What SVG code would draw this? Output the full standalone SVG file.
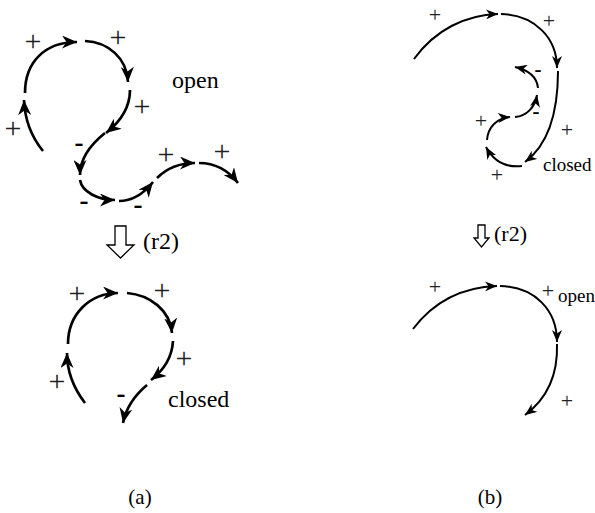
<svg xmlns="http://www.w3.org/2000/svg" width="595" height="513" viewBox="0 0 595 513" font-family="Liberation Serif, Times New Roman, serif">
<style>
  .ca { fill: none; stroke: #000; stroke-width: 2.7; marker-end: url(#ha); }
  .cb { fill: none; stroke: #000; stroke-width: 2; marker-end: url(#hb); }
  text { font-family: 'Liberation Serif', 'Times New Roman', serif; fill: #000; }
  .pa { font-size: 30px; text-anchor: middle; fill: #222; }
  .pb { font-size: 22px; text-anchor: middle; fill: #222; }
  .ma { font-size: 27px; font-weight: bold; text-anchor: middle; }
  .mb { font-size: 21px; font-weight: bold; text-anchor: middle; }
  .wa { font-size: 24px; }
  .wb { font-size: 19px; }
  .hollow { fill: #fff; stroke: #000; stroke-width: 1.3; stroke-linejoin: miter; }
</style>
<defs>
  <marker id="ha" markerUnits="userSpaceOnUse" markerWidth="15" markerHeight="13" refX="15" refY="6.5" orient="auto">
    <path d="M0,0 L15,6.5 L0,13 L4.5,6.5 z" fill="#000"/>
  </marker>
  <marker id="hb" markerUnits="userSpaceOnUse" markerWidth="12" markerHeight="10" refX="12" refY="5" orient="auto">
    <path d="M0,0 L12,5 L0,10 L3.5,5 z" fill="#000"/>
  </marker>
</defs>
<rect width="595" height="513" fill="#fff"/>

<g id="connectors">
  <path class="ca" d="M43,151 C34,140 25,125 24,100"/>
  <path class="ca" d="M25,93 C25,62 45,42 77,42"/>
  <path class="ca" d="M85,41 C108,42 127,58 128,82"/>
  <path class="ca" d="M130,90 C130,108 120,122 106,133"/>
  <path class="ca" d="M105,133 C90,145 80,158 80,175"/>
  <path class="ca" d="M80,180 C82,192 98,200 115,200"/>
  <path class="ca" d="M119,201 C133,201 145,192 153,182"/>
  <path class="ca" d="M157,178 C167,168 180,163 195,163"/>
  <path class="ca" d="M199,163 C215,163 228,170 238,183"/>
  <path class="ca" d="M85,403 C75,390 67,372 67,353"/>
  <path class="ca" d="M68,344 C68,314 90,293 118,293"/>
  <path class="ca" d="M127,293 C150,295 170,310 172,333"/>
  <path class="ca" d="M173,341 C172,358 164,370 151,380"/>
  <path class="ca" d="M147,385 C135,395 126,408 123,423"/>
  <path class="cb" d="M414,59 C435,30 465,15 498,14"/>
  <path class="cb" d="M501,14 C535,15 557,38 557,68"/>
  <path class="cb" d="M558,71 C558,115 548,145 525,162"/>
  <path class="cb" d="M522,166 C505,168 493,160 486,147"/>
  <path class="cb" d="M487,140 C488,127 497,118 510,117"/>
  <path class="cb" d="M515,117 C527,116 535,107 537,95"/>
  <path class="cb" d="M538,88 C537,77 528,70 515,67"/>
  <path class="cb" d="M413,329 C435,300 465,287 497,286"/>
  <path class="cb" d="M500,286 C535,287 557,310 557,342"/>
  <path class="cb" d="M557,344 C558,375 548,398 525,415"/>
</g>

<g id="labels-a-top">
  <text class="pa" x="33" y="51">+</text>
  <text class="pa" x="118" y="47">+</text>
  <text class="pa" x="142" y="116">+</text>
  <text class="pa" x="13" y="138">+</text>
  <text class="ma" x="79" y="151">-</text>
  <text class="pa" x="166" y="164">+</text>
  <text class="pa" x="222" y="161">+</text>
  <text class="ma" x="84" y="209">-</text>
  <text class="ma" x="138" y="213">-</text>
  <text class="wa" x="172" y="88">open</text>
</g>

<g id="transform-a">
  <polygon class="hollow" points="115,226 126,226 126,245 134,245 120.5,258 107,245 115,245"/>
  <text class="wa" x="143" y="249">(r2)</text>
</g>

<g id="labels-a-bottom">
  <text class="pa" x="77" y="303">+</text>
  <text class="pa" x="162" y="300">+</text>
  <text class="pa" x="184" y="368">+</text>
  <text class="pa" x="57" y="391">+</text>
  <text class="ma" x="121" y="402">-</text>
  <text class="wa" x="168" y="407">closed</text>
</g>

<g id="labels-b-top">
  <text class="pb" x="435" y="22">+</text>
  <text class="pb" x="549" y="28">+</text>
  <text class="mb" x="538" y="76">-</text>
  <text class="mb" x="536" y="118">-</text>
  <text class="pb" x="481" y="128">+</text>
  <text class="pb" x="567" y="137">+</text>
  <text class="pb" x="497" y="182">+</text>
  <text class="wb" x="543" y="171">closed</text>
</g>

<g id="transform-b">
  <polygon class="hollow" points="478,225 485,225 485,238 489,238 481.5,247 474,238 478,238"/>
  <text x="494" y="241" font-size="22">(r2)</text>
</g>

<g id="labels-b-bottom">
  <text class="pb" x="435" y="294">+</text>
  <text class="pb" x="548" y="298">+</text>
  <text class="wb" x="558" y="302">open</text>
  <text class="pb" x="567" y="408">+</text>
</g>

<g id="captions">
  <text x="140" y="504" font-size="21" text-anchor="middle">(a)</text>
  <text x="490" y="504" font-size="21" text-anchor="middle">(b)</text>
</g>
</svg>
